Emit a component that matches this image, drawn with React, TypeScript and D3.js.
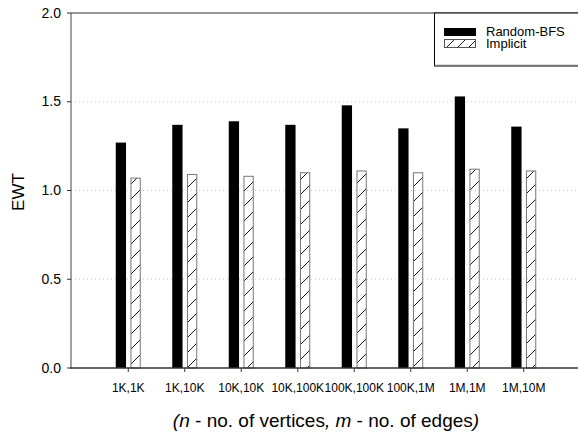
import React from 'react';
import * as d3 from 'd3';

const categories = ['1K,1K', '1K,10K', '10K,10K', '10K,100K', '100K,100K', '100K,1M', '1M,1M', '1M,10M'];
const series = ['Random-BFS', 'Implicit'];
const randomBFS = [1.27, 1.37, 1.39, 1.37, 1.48, 1.35, 1.53, 1.36];
const implicit = [1.07, 1.09, 1.08, 1.10, 1.11, 1.10, 1.12, 1.11];
const yTicks = [0, 0.5, 1.0, 1.5, 2.0];
const gridTicks = [0.5, 1.0, 1.5];

const W = 578, H = 435;
const left = 71, right = 578, top = 13, bottom = 368;

export default function App() {
  const x = d3.scaleBand<string>().domain(categories).range([100, 552]).padding(0);
  const x1 = d3.scaleBand<string>().domain(series).range([-12.5, 12.5]).paddingInner(0.3);
  const y = d3.scaleLinear().domain([0, 2]).range([bottom, top]);
  const font = 'Arial, "Liberation Sans", sans-serif';
  const values = [randomBFS, implicit];

  return (
    <svg width={W} height={H} style={{ position: 'absolute', left: 0, top: 0, background: '#fff' }} fontFamily={font}>
      <defs>
        <pattern id="hatch" patternUnits="userSpaceOnUse" width={15} height={15}>
          <line x1={0} y1={15} x2={15} y2={0} stroke="#000" strokeWidth={0.9} />
          <line x1={-5} y1={5} x2={5} y2={-5} stroke="#000" strokeWidth={0.9} />
          <line x1={10} y1={20} x2={20} y2={10} stroke="#000" strokeWidth={0.9} />
        </pattern>
        <pattern id="hatchL" patternUnits="userSpaceOnUse" width={11} height={11} x={444} y={39}>
          <line x1={0} y1={11} x2={11} y2={0} stroke="#000" strokeWidth={0.9} />
        </pattern>
      </defs>
      <rect x={0} y={0} width={W} height={H} fill="#fff" />
      {gridTicks.map(t => (
        <line key={t} x1={left} x2={right} y1={y(t)} y2={y(t)} stroke="#cfcfcf" strokeDasharray="1,3" />
      ))}
      {categories.map((c, i) => {
        const cx = (x(c) as number) + x.bandwidth() / 2;
        return (
          <g key={c}>
            {series.map((s, j) => {
              const v = values[j][i];
              const bx = cx + (x1(s) as number);
              return j === 0 ? (
                <rect key={s} x={bx} y={y(v)} width={x1.bandwidth()} height={y(0) - y(v)} fill="#000" />
              ) : (
                <rect key={s} x={bx + 0.5} y={y(v)} width={x1.bandwidth() - 1} height={y(0) - y(v)} fill="url(#hatch)" stroke="#777" strokeWidth={1} />
              );
            })}
          </g>
        );
      })}
      {/* frame */}
      <line x1={left} x2={right} y1={top} y2={top} stroke="#333" strokeWidth={1} />
      <line x1={left} x2={left} y1={top} y2={bottom} stroke="#444" strokeWidth={1} />
      <line x1={left - 1} x2={right} y1={bottom} y2={bottom} stroke="#333" strokeWidth={1.5} />
      {yTicks.map(t => (
        <g key={t}>
          <line x1={left - 4} x2={left} y1={y(t)} y2={y(t)} stroke="#333" />
          <text x={61} y={y(t) + 4.5} textAnchor="end" fontSize={14} fill="#000">{t.toFixed(1)}</text>
        </g>
      ))}
      {categories.map(c => {
        const cx = (x(c) as number) + x.bandwidth() / 2;
        return (
          <g key={c}>
            <line x1={cx} x2={cx} y1={bottom} y2={bottom + 4} stroke="#333" />
            <text x={cx} y={391.5} textAnchor="middle" fontSize={12} fill="#000">{c}</text>
          </g>
        );
      })}
      <text transform="translate(24,192) rotate(-90)" textAnchor="middle" fontSize={17} fill="#000">EWT</text>
      <text x={326} y={426.5} textAnchor="middle" fontSize={19} fill="#000">
        <tspan fontStyle="italic">(n</tspan>
        <tspan> - no. of vertices</tspan>
        <tspan fontStyle="italic">, m</tspan>
        <tspan> - no. of edges</tspan>
        <tspan fontStyle="italic">)</tspan>
      </text>
      {/* legend */}
      <rect x={434.5} y={13} width={150} height={53} fill="#fff" stroke="#000" strokeWidth={1} />
      <line x1={434.5} x2={578} y1={65.5} y2={65.5} stroke="#777" strokeWidth={1.5} />
      <rect x={444} y={28} width={32} height={8} fill="#000" />
      <rect x={444.5} y={39.5} width={31} height={8} fill="url(#hatchL)" stroke="#555" strokeWidth={1} />
      <text x={486} y={35.5} fontSize={13} fill="#000">{series[0]}</text>
      <text x={486} y={48} fontSize={13} fill="#000">{series[1]}</text>
    </svg>
  );
}
